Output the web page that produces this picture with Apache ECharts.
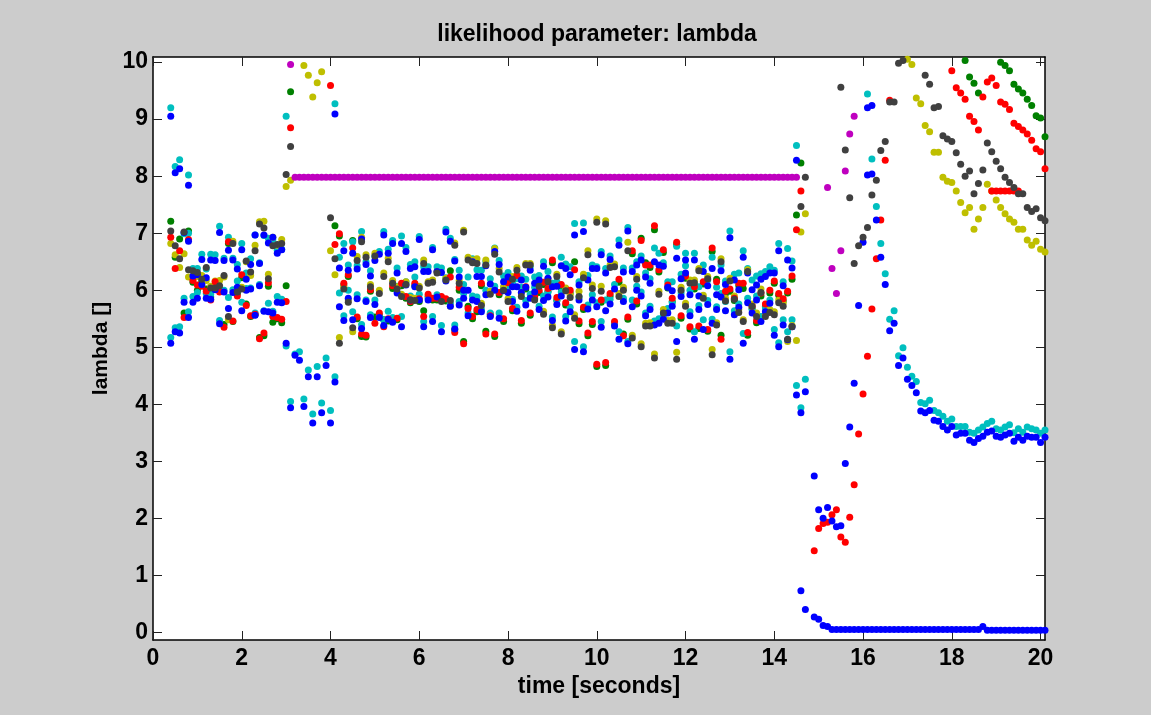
<!DOCTYPE html>
<html>
<head>
<meta charset="utf-8">
<script src="https://cdn.jsdelivr.net/npm/echarts@6/dist/echarts.min.js"></script>
<style>
  html, body { margin: 0; padding: 0; background: #cccccc; }
  #chart { width: 1151px; height: 715px; }
</style>
</head>
<body>
<div id="chart"></div>
<script>
// Each row: [time, value, value, ...] = every value of that colour at one time step.

const blueEarly = [[0.4,5.07,9.05],[0.5,5.27,8.06],[0.6,5.25,8.13],[0.7,5.79,7.01],[0.8,5.52,7.84,6.86],[0.9,5.79,6.25],[1.0,6.27,5.86],[1.1,6.54,6.10],[1.2,6.22,5.86],[1.3,6.53,5.84],[1.4,6.52,6.01],[1.5,7.01,5.41],[1.6,6.52,5.97],[1.7,6.70,5.68],[1.8,6.53,5.96],[1.9,6.37,6.05],[2.0,6.71,5.64],[2.1,6.19,6.00],[2.2,6.45,6.02],[2.3,6.97,5.56],[2.4,6.47,6.08],[2.5,6.97,5.63],[2.6,6.83,5.62],[2.7,6.93,5.60],[2.8,6.65,5.79],[2.9,6.71,5.78],[3.0,5.07],[3.1,3.94],[3.2,4.86],[3.3,4.77],[3.4,3.96],[3.5,4.48],[3.6,3.67],[3.7,4.48],[3.8,3.85],[3.9,4.68],[4.0,3.67],[4.1,4.39,9.09]];
const blueMid = [[4.2,6.39,5.71],[4.3,6.69,5.47],[4.4,6.35,5.86],[4.5,6.65,5.48],[4.6,6.37,5.85],[4.7,6.90,5.33],[4.8,6.45,5.80],[4.9,6.25,5.52],[5.0,5.75,6.52],[5.1,6.63,5.52],[5.2,6.97,5.38],[5.3,6.65,5.49],[5.4,6.82,5.44],[5.5,5.95,6.30],[5.6,6.82,5.36],[5.7,6.68,6.09],[5.8,5.83,6.38],[5.9,6.41,6.06],[6.0,5.83,6.89],[6.1,6.33,5.36],[6.2,6.33,5.83],[6.3,6.71,5.45],[6.4,6.33,5.88],[6.5,6.31,5.27],[6.6,7.02,6.16],[6.7,6.86,5.72],[6.8,6.51,5.32],[6.9,6.23,5.74],[7.0,6.00,5.86],[7.1,6.00,5.55],[7.2,5.83,6.50],[7.3,6.24,5.80],[7.4,6.24,5.62],[7.5,6.43,5.92],[7.6,5.54,6.11],[7.7,6.68,6.00],[7.8,6.45,5.51],[7.9,6.15,5.99],[8.0,6.23,5.96],[8.1,6.06,5.80],[8.2,6.06,5.63],[8.3,6.18,5.96],[8.4,6.05,5.74],[8.5,5.86,6.35],[8.6,5.97,6.12],[8.7,6.18,5.66],[8.8,6.42,5.82],[8.9,6.21,5.88],[9.0,6.06,5.47],[9.1,6.07,5.75],[9.2,6.43,5.90],[9.3,6.38,5.46],[9.4,6.27,5.62]];
const blueLate = [[9.5,6.97,4.96],[9.6,6.09,5.83],[9.7,7.03,4.92],[9.8,6.18,5.67],[9.9,5.83,6.38],[10.0,5.71,6.38],[10.1,6.62,5.35],[10.2,6.30,5.64],[10.3,6.54,5.76],[10.4,6.02,5.37],[10.5,6.79,5.14],[10.6,5.80,6.32],[10.7,5.06,7.04],[10.8,5.71,6.33],[10.9,6.44,6.00],[11.0,5.90,6.53],[11.1,5.55,6.23],[11.2,6.12,5.66],[11.3,6.50,5.39],[11.4,6.44,5.42],[11.5,6.42,5.49],[11.6,6.05,5.60],[11.7,5.99,5.72],[11.8,6.56,5.10],[11.9,5.89,6.20],[12.0,6.30,6.53],[12.1,5.92,5.55],[12.2,6.53,5.14],[12.3,5.90,5.66],[12.4,6.33,5.31],[12.5,6.08,5.75],[12.6,6.38,5.42],[12.7,5.92,5.66],[12.8,6.34,5.88],[12.9,5.64,6.10],[13.0,6.92,4.79],[13.1,6.18,5.57],[13.2,6.01,5.70],[13.3,6.58,5.07],[13.4,5.78,6.30],[13.5,6.01,5.60],[13.6,6.09,5.83],[13.7,6.19,5.45],[13.8,6.24,5.62],[13.9,6.30,5.77],[14.0,5.21,6.30],[14.1,6.69,5.01],[14.2,5.39,6.08],[14.3,5.13,6.53],[14.4,5.36,6.39],[14.5,8.28,4.16],[14.6,3.85,0.73],[14.7,4.22,0.40]];
const blueTail = [[14.9,2.74,0.27],[15.0,2.15,0.23],[15.1,2.00,0.12],[15.2,2.19,0.10],[15.3,1.95,0.05],[15.4,1.85,0.05],[15.5,1.87,0.05],[15.6,2.96,0.05],[15.7,3.60,0.05],[15.8,4.37,0.05],[15.9,5.73,0.05],[16.0,6.84,0.05],[16.1,8.02,9.20,0.05],[16.2,8.04,9.24,0.05],[16.3,7.23,0.05],[16.4,6.58,0.05],[16.5,6.10,0.05],[16.6,5.29,0.05],[16.7,5.42,0.05],[16.8,4.68,0.05],[16.9,4.81,0.05],[17.0,4.44,0.05],[17.1,4.33,0.05],[17.2,4.20,0.05],[17.3,3.88,0.05],[17.4,3.85,0.05],[17.5,3.89,0.05],[17.6,3.72,0.05],[17.7,3.70,0.05],[17.8,3.61,0.05],[17.9,3.55,0.05],[18.0,3.61,0.05],[18.1,3.46,0.05],[18.2,3.49,0.05],[18.3,3.49,0.05],[18.4,3.37,0.05],[18.5,3.33,0.05],[18.6,3.40,0.05],[18.7,3.44,0.10],[18.8,3.51,0.035],[18.9,3.53,0.035],[19.0,3.44,0.035],[19.1,3.42,0.035],[19.2,3.46,0.035],[19.3,3.49,0.035],[19.4,3.35,0.035],[19.5,3.42,0.035],[19.6,3.37,0.035],[19.7,3.44,0.035],[19.8,3.42,0.035],[19.9,3.42,0.035],[20.0,3.33,0.035],[20.1,3.42,0.035]];

const cyanEarly = [[0.4,5.17,9.20],[0.5,5.34,8.17],[0.6,5.36,8.29],[0.7,5.86,6.99],[0.8,5.62,8.02,7.00],[0.9,5.89,6.38],[1.0,6.38,5.96],[1.1,6.63,6.20],[1.2,6.37,5.94],[1.3,6.63,5.93],[1.4,6.62,6.05],[1.5,7.12,5.47],[1.6,6.56,6.00],[1.7,6.93,5.87],[1.8,6.56,6.01],[1.9,6.45,6.16],[2.0,6.82,5.79],[2.1,6.30,6.03],[2.2,6.55,6.04],[2.3,6.97,5.60],[2.4,6.48,6.10],[2.5,6.96,5.64],[2.6,6.91,5.77],[2.7,6.89,5.63],[2.8,6.70,5.89],[2.9,6.72,5.84],[3.0,5.02,9.05],[3.1,4.05],[3.2,4.88],[3.3,4.92],[3.4,4.09],[3.5,4.60],[3.6,3.83],[3.7,4.66],[3.8,4.02],[3.9,4.81],[4.0,3.89],[4.1,4.48,9.27]];
const cyanMid = [[4.2,6.58,5.95],[4.3,6.82,5.55],[4.4,6.44,6.00],[4.5,6.85,5.62],[4.6,6.43,5.92],[4.7,7.03,5.40],[4.8,6.50,5.83],[4.9,6.34,5.57],[5.0,5.83,6.59],[5.1,6.68,5.55],[5.2,7.03,5.48],[5.3,6.72,5.63],[5.4,6.87,5.52],[5.5,6.07,6.39],[5.6,6.95,5.54],[5.7,6.75,6.15],[5.8,5.90,6.45],[5.9,6.50,6.23],[6.0,5.93,6.94],[6.1,6.41,5.45],[6.2,6.41,5.86],[6.3,6.75,5.54],[6.4,6.41,5.92],[6.5,6.39,5.38],[6.6,7.07,6.22],[6.7,6.91,5.77],[6.8,6.54,5.39],[6.9,6.35,5.80],[7.0,6.10,5.94],[7.1,6.23,5.60],[7.2,5.90,6.55],[7.3,6.36,5.88],[7.4,6.35,5.66],[7.5,6.50,6.00],[7.6,5.60,6.20],[7.7,6.74,6.07],[7.8,6.52,5.60],[7.9,6.25,6.04],[8.0,6.31,6.06],[8.1,6.12,5.84],[8.2,6.20,5.70],[8.3,6.25,6.05],[8.4,6.19,5.82],[8.5,5.93,6.41],[8.6,6.05,6.23],[8.7,6.26,5.72],[8.8,6.50,5.90],[8.9,6.33,5.96],[9.0,6.12,5.53],[9.1,6.15,5.83],[9.2,6.58,5.97],[9.3,6.46,5.54],[9.4,6.41,5.70]];
const cyanLate = [[9.5,7.17,5.10],[9.6,6.15,5.88],[9.7,7.18,5.01],[9.8,6.26,5.74],[9.9,5.92,6.44],[10.0,5.78,6.41],[10.1,6.68,5.45],[10.2,6.38,5.83],[10.3,6.60,5.84],[10.4,6.10,5.43],[10.5,6.88,5.27],[10.6,5.86,6.39],[10.7,5.10,7.10],[10.8,5.83,6.39],[10.9,6.50,6.07],[11.0,5.97,6.60],[11.1,5.60,6.30],[11.2,6.20,5.72],[11.3,6.74,5.46],[11.4,6.65,5.50],[11.5,6.48,5.55],[11.6,6.15,5.68],[11.7,6.15,5.78],[11.8,6.77,5.37],[11.9,5.95,6.28],[12.0,6.43,6.65],[12.1,6.00,5.62],[12.2,6.65,5.27],[12.3,6.06,5.73],[12.4,6.44,5.48],[12.5,6.18,5.82],[12.6,6.58,5.49],[12.7,6.05,5.71],[12.8,6.44,5.94],[12.9,5.80,6.16],[13.0,7.04,4.92],[13.1,6.28,5.64],[13.2,6.30,5.76],[13.3,6.69,5.24],[13.4,5.86,6.38],[13.5,6.18,5.66],[13.6,6.25,5.90],[13.7,6.29,5.54],[13.8,6.33,5.69],[13.9,6.41,5.83],[14.0,5.31,6.35],[14.1,6.82,5.08],[14.2,5.48,6.15],[14.3,5.27,6.73],[14.4,5.48,6.51],[14.5,8.54,4.33],[14.6,3.94],[14.7,4.44]];
const cyanTail = [[16.1,9.44],[16.2,8.30],[16.3,7.47],[16.4,6.82],[16.5,6.29],[16.6,5.49],[16.7,5.64],[16.8,4.85],[16.9,4.99],[17.0,4.65],[17.1,4.49],[17.2,4.40],[17.3,4.03],[17.4,4.01],[17.5,4.07],[17.6,3.89],[17.7,3.85],[17.8,3.79],[17.9,3.70],[18.0,3.74],[18.1,3.61],[18.2,3.61],[18.3,3.61],[18.4,3.51],[18.5,3.49],[18.6,3.55],[18.7,3.60],[18.8,3.66],[18.9,3.70],[19.0,3.57],[19.1,3.55],[19.2,3.60],[19.3,3.64],[19.4,3.50],[19.5,3.57],[19.6,3.51],[19.7,3.60],[19.8,3.57],[19.9,3.55],[20.0,3.49],[20.1,3.55]];

const redEarly = [[0.4,6.93],[0.5,6.38],[0.6,6.69],[0.7,5.52],[0.8,6.89],[0.9,6.17],[1.0,6.09],[1.1,6.07],[1.2,5.98],[1.3,5.83],[1.4,6.15],[1.5,5.97],[1.6,5.35],[1.7,6.85],[1.8,5.46],[1.9,5.90],[2.0,6.27],[2.1,5.73],[2.2,5.55],[2.3,5.58],[2.4,5.15],[2.5,5.25],[2.6,6.13],[2.7,5.54],[2.8,5.52],[2.9,5.49],[3.0,5.80],[3.1,8.85],[4.0,9.59],[4.1,6.80]];
const redMid = [[4.2,6.99],[4.3,6.12],[4.4,6.27],[4.5,6.74],[4.6,5.53],[4.7,5.23],[4.8,5.21],[4.9,6.01],[5.0,5.42],[5.1,5.60],[5.2,5.36],[5.3,5.50],[5.4,6.08],[5.5,5.51],[5.6,6.12],[5.7,5.89],[5.8,5.80],[5.9,6.12],[6.0,5.85],[6.1,5.54],[6.2,5.93],[6.3,5.86],[6.4,5.86],[6.5,5.89],[6.6,5.85],[6.7,6.23],[6.8,5.26],[6.9,6.05],[7.0,5.06],[7.1,5.68],[7.2,5.54],[7.3,5.66],[7.4,6.12],[7.5,5.23],[7.6,5.55],[7.7,5.23],[7.8,5.96],[7.9,5.50],[8.0,6.13],[8.1,5.68],[8.2,6.26],[8.3,5.47],[8.4,6.06],[8.5,5.60],[8.6,5.89],[8.7,6.00],[8.8,6.14],[8.9,6.03],[9.0,6.53],[9.1,5.87],[9.2,6.10],[9.3,5.78],[9.4,6.00]];
const redLate = [[9.5,6.36],[9.6,5.46],[9.7,5.70],[9.8,5.25],[9.9,5.45],[10.0,4.70],[10.1,5.83],[10.2,4.73],[10.3,5.94],[10.4,5.45],[10.5,6.19],[10.6,5.20],[10.7,5.53],[10.8,6.69],[10.9,5.81],[11.0,6.87],[11.1,6.44],[11.2,6.44],[11.3,7.13],[11.4,6.36],[11.5,6.71],[11.6,6.09],[11.7,5.86],[11.8,6.84],[11.9,5.55],[12.0,6.25],[12.1,5.36],[12.2,6.06],[12.3,5.37],[12.4,6.15],[12.5,5.31],[12.6,6.74],[12.7,6.15],[12.8,5.14],[12.9,5.98],[13.0,6.02],[13.1,5.86],[13.2,6.12],[13.3,6.12],[13.4,5.26],[13.5,5.72],[13.6,5.47],[13.7,5.95],[13.8,5.76],[13.9,6.00],[14.0,6.16],[14.1,5.94],[14.2,5.85],[14.3,5.98],[14.4,6.25],[14.5,7.06],[14.6,7.74]];
const redTail = [[14.9,1.43],[15.0,1.82],[15.1,1.91],[15.2,1.93],[15.3,2.06],[15.4,2.15],[15.5,1.67],[15.6,1.58],[15.7,2.02],[15.8,2.59],[15.9,3.48],[16.0,4.18],[16.1,4.84],[16.2,5.67],[16.3,6.55],[16.4,7.23],[16.5,8.28],[16.6,9.33],[18.0,9.85],[18.1,9.55],[18.2,9.46],[18.3,9.35],[18.4,9.05],[18.5,8.96],[18.6,8.81],[18.7,9.39],[18.8,9.65],[18.9,9.72,7.74],[19.0,9.59,7.74],[19.1,9.30,7.74],[19.2,9.26,7.74],[19.3,9.17,7.74],[19.4,8.93,7.74],[19.5,8.87,7.74],[19.6,8.81],[19.7,8.74],[19.8,8.63],[19.9,8.48],[20.0,8.43],[20.1,8.13]];

const greenEarly = [[0.4,7.21],[0.5,6.58],[0.6,6.90],[0.7,5.60],[0.8,7.04],[0.9,6.14],[1.0,6.00],[1.1,6.15],[1.2,6.02],[1.3,5.88],[1.4,6.10],[1.5,6.02],[1.6,5.40],[1.7,6.82],[1.8,5.45],[1.9,5.94],[2.0,6.22],[2.1,5.76],[2.2,5.54],[2.3,5.57],[2.4,5.17],[2.5,5.20],[2.6,6.07],[2.7,5.44],[2.8,5.50],[2.9,5.43],[3.0,6.08],[3.1,9.48],[4.1,7.13]];
const greenMid = [[4.2,6.95],[4.3,6.09],[4.4,6.24],[4.5,6.87],[4.6,5.50],[4.7,5.19],[4.8,5.18],[4.9,5.98],[5.0,5.53],[5.1,5.56],[5.2,5.48],[5.3,5.46],[5.4,6.03],[5.5,5.48],[5.6,6.08],[5.7,5.86],[5.8,5.78],[5.9,6.08],[6.0,5.80],[6.1,5.64],[6.2,5.89],[6.3,5.83],[6.4,5.83],[6.5,5.85],[6.6,5.81],[6.7,6.34],[6.8,5.31],[6.9,6.00],[7.0,5.10],[7.1,5.72],[7.2,5.50],[7.3,5.62],[7.4,6.08],[7.5,5.28],[7.6,5.58],[7.7,5.19],[7.8,5.92],[7.9,5.45],[8.0,6.10],[8.1,5.64],[8.2,6.22],[8.3,5.42],[8.4,6.02],[8.5,5.56],[8.6,5.85],[8.7,5.96],[8.8,6.10],[8.9,5.98],[9.0,6.48],[9.1,5.82],[9.2,6.04],[9.3,5.74],[9.4,5.95]];
const greenLate = [[9.5,6.50],[9.6,5.41],[9.7,5.66],[9.8,5.20],[9.9,5.40],[10.0,4.66],[10.1,5.79],[10.2,4.68],[10.3,5.90],[10.4,5.41],[10.5,6.14],[10.6,5.23],[10.7,5.49],[10.8,6.64],[10.9,5.76],[11.0,6.91],[11.1,6.48],[11.2,6.40],[11.3,7.06],[11.4,6.32],[11.5,6.66],[11.6,6.04],[11.7,5.80],[11.8,6.80],[11.9,5.51],[12.0,6.21],[12.1,5.32],[12.2,6.02],[12.3,5.33],[12.4,6.11],[12.5,5.28],[12.6,6.68],[12.7,6.19],[12.8,5.21],[12.9,5.94],[13.0,5.98],[13.1,5.82],[13.2,6.08],[13.3,6.03],[13.4,5.21],[13.5,5.68],[13.6,5.43],[13.7,5.90],[13.8,5.71],[13.9,5.95],[14.0,6.12],[14.1,5.91],[14.2,5.81],[14.3,5.95],[14.4,6.19],[14.5,7.32],[14.6,8.23]];
const greenTail = [[18.3,10.03],[18.4,9.74],[18.5,9.63],[18.6,9.46],[19.1,10.00],[19.2,9.94],[19.3,9.85],[19.4,9.61],[19.5,9.53],[19.6,9.46],[19.7,9.35],[19.8,9.24],[19.9,9.06],[20.0,9.02],[20.1,8.69]];

const yellowEarly = [[0.4,6.82],[0.5,6.62],[0.6,6.40],[0.7,6.64],[0.8,6.23],[0.9,6.22],[1.0,6.24],[1.1,6.26],[1.2,6.17],[1.3,6.07],[1.4,6.16],[1.5,6.17],[1.6,6.23],[1.7,5.48],[1.8,6.86],[1.9,6.02],[2.0,6.05],[2.1,6.50],[2.2,6.26],[2.3,6.79],[2.4,7.20],[2.5,7.21],[2.6,6.28],[2.7,6.93],[2.8,6.79],[2.9,6.89],[3.0,7.82],[3.1,7.93],[3.4,9.94],[3.5,9.77],[3.6,9.39],[3.7,9.64],[3.8,9.83],[4.0,6.69],[4.1,6.27]];
const yellowMid = [[4.2,5.17],[4.3,6.05],[4.4,5.83],[4.5,5.27],[4.6,6.59],[4.7,6.93],[4.8,6.62],[4.9,6.10],[5.0,6.65],[5.1,6.00],[5.2,6.30],[5.3,6.56],[5.4,6.17],[5.5,6.06],[5.6,5.93],[5.7,6.15],[5.8,5.87],[5.9,5.86],[6.0,6.07],[6.1,6.53],[6.2,6.15],[6.3,6.18],[6.4,6.33],[6.5,5.86],[6.6,6.21],[6.7,5.72],[6.8,6.83],[6.9,6.17],[7.0,7.05],[7.1,6.58],[7.2,6.53],[7.3,6.55],[7.4,5.77],[7.5,6.53],[7.6,5.98],[7.7,6.73],[7.8,6.38],[7.9,6.06],[8.0,5.85],[8.1,6.24],[8.2,6.40],[8.3,5.95],[8.4,6.47],[8.5,6.47],[8.6,5.88],[8.7,6.12],[8.8,5.63],[8.9,6.20],[9.0,5.38],[9.1,6.28],[9.2,5.27],[9.3,6.04],[9.4,5.92]];
const yellowLate = [[9.5,5.57],[9.6,5.98],[9.7,6.28],[9.8,6.69],[9.9,6.09],[10.0,7.25],[10.1,6.07],[10.2,7.22],[10.3,6.44],[10.4,6.46],[10.5,5.94],[10.6,6.05],[10.7,6.84],[10.8,5.21],[10.9,6.24],[11.0,5.06],[11.1,5.42],[11.2,5.43],[11.3,4.88],[11.4,5.98],[11.5,5.66],[11.6,5.47],[11.7,5.48],[11.8,4.91],[11.9,6.05],[12.0,5.77],[12.1,6.18],[12.2,6.18],[12.3,6.38],[12.4,5.91],[12.5,6.24],[12.6,4.96],[12.7,5.43],[12.8,6.55],[12.9,5.86],[13.0,6.21],[13.1,5.90],[13.2,5.66],[13.3,5.48],[13.4,6.36],[13.5,5.76],[13.6,5.60],[13.7,6.02],[13.8,5.58],[13.9,5.66],[14.0,5.62],[14.1,5.83],[14.2,5.77],[14.3,5.10],[14.4,5.38],[14.5,5.12],[14.6,7.02],[14.7,7.34]];
const yellowTail = [[17.0,10.05],[17.1,9.96],[17.2,9.37],[17.3,9.27],[17.4,8.89],[17.5,8.78],[17.6,8.42],[17.7,8.42],[17.8,7.98],[17.9,7.91],[18.0,7.89],[18.1,7.74],[18.2,7.54],[18.3,7.36],[18.4,7.45],[18.5,7.07],[18.6,7.25],[18.7,7.45],[18.8,7.86],[18.9,7.74],[19.0,7.58],[19.1,7.45],[19.2,7.34],[19.3,7.25],[19.4,7.19],[19.5,7.07],[19.6,7.07],[19.7,6.88],[19.8,6.79],[19.9,6.86],[20.0,6.72],[20.1,6.67]];

const grayEarly = [[0.4,7.04],[0.5,6.78],[0.6,6.55],[0.7,7.02],[0.8,6.36],[0.9,6.34],[1.0,6.31],[1.1,6.19],[1.2,6.40],[1.3,6.04],[1.4,6.04],[1.5,6.08],[1.6,6.26],[1.7,5.54],[1.8,6.82],[1.9,5.97],[2.0,6.02],[2.1,6.51],[2.2,6.32],[2.3,6.69],[2.4,7.16],[2.5,7.09],[2.6,6.20],[2.7,6.78],[2.8,6.80],[2.9,6.82],[3.0,8.03],[3.1,8.52],[4.0,7.27],[4.1,6.55]];
const grayMid = [[4.2,5.07],[4.3,6.02],[4.4,5.79],[4.5,5.34],[4.6,6.52],[4.7,6.85],[4.8,6.58],[4.9,6.06],[5.0,6.60],[5.1,5.94],[5.2,6.24],[5.3,6.50],[5.4,6.12],[5.5,6.02],[5.6,5.89],[5.7,6.10],[5.8,5.83],[5.9,5.82],[6.0,6.04],[6.1,6.47],[6.2,6.12],[6.3,6.14],[6.4,6.30],[6.5,5.80],[6.6,6.18],[6.7,5.82],[6.8,6.79],[6.9,6.12],[7.0,7.02],[7.1,6.53],[7.2,6.48],[7.3,6.47],[7.4,5.73],[7.5,6.44],[7.6,5.93],[7.7,6.63],[7.8,6.32],[7.9,6.00],[8.0,5.80],[8.1,6.19],[8.2,6.35],[8.3,5.89],[8.4,6.44],[8.5,6.44],[8.6,5.83],[8.7,6.07],[8.8,5.58],[8.9,6.15],[9.0,5.34],[9.1,6.24],[9.2,5.23],[9.3,5.99],[9.4,5.87]];
const grayLate = [[9.5,5.51],[9.6,5.89],[9.7,6.22],[9.8,6.62],[9.9,6.03],[10.0,7.19],[10.1,5.98],[10.2,7.16],[10.3,6.40],[10.4,6.41],[10.5,5.89],[10.6,6.00],[10.7,6.69],[10.8,5.16],[10.9,6.19],[11.0,5.01],[11.1,5.37],[11.2,5.37],[11.3,4.81],[11.4,5.93],[11.5,5.60],[11.6,5.42],[11.7,5.42],[11.8,4.79],[11.9,6.00],[12.0,5.72],[12.1,6.12],[12.2,6.13],[12.3,6.34],[12.4,5.86],[12.5,6.20],[12.6,4.87],[12.7,5.39],[12.8,6.50],[12.9,5.81],[13.0,6.16],[13.1,5.84],[13.2,5.61],[13.3,5.45],[13.4,6.33],[13.5,5.72],[13.6,5.54],[13.7,5.96],[13.8,5.54],[13.9,5.61],[14.0,5.57],[14.1,5.78],[14.2,5.72],[14.3,5.14],[14.4,5.36],[14.6,7.47],[14.7,7.98]];
const grayTail = [[15.5,9.56],[15.6,8.46],[15.7,7.62],[15.8,6.47],[15.9,6.78],[16.0,6.93],[16.1,7.10],[16.2,7.67],[16.3,7.93],[16.4,8.45],[16.5,8.61],[16.6,9.30],[16.7,9.30],[16.8,9.98],[16.9,10.03],[17.4,9.77],[17.5,9.61],[17.6,9.20],[17.7,9.22],[17.8,8.71],[17.9,8.65],[18.0,8.61],[18.1,8.41],[18.2,8.21],[18.3,8.00],[18.4,8.09],[18.5,7.69],[18.6,7.87],[18.7,8.11],[18.8,8.58],[18.9,8.43],[19.0,8.26],[19.1,8.13],[19.2,7.98],[19.3,7.89],[19.4,7.80],[19.5,7.69],[19.6,7.69],[19.7,7.45],[19.8,7.38],[19.9,7.43],[20.0,7.27],[20.1,7.22]];

const magentaHold = [[3.1,9.96],[3.2,7.98],[3.3,7.98],[3.4,7.98],[3.5,7.98],[3.6,7.98],[3.7,7.98],[3.8,7.98],[3.9,7.98],[4.0,7.98],[4.1,7.98],[4.2,7.98],[4.3,7.98],[4.4,7.98],[4.5,7.98],[4.6,7.98],[4.7,7.98],[4.8,7.98],[4.9,7.98],[5.0,7.98],[5.1,7.98],[5.2,7.98],[5.3,7.98],[5.4,7.98],[5.5,7.98],[5.6,7.98],[5.7,7.98],[5.8,7.98],[5.9,7.98],[6.0,7.98],[6.1,7.98],[6.2,7.98],[6.3,7.98],[6.4,7.98],[6.5,7.98],[6.6,7.98],[6.7,7.98],[6.8,7.98],[6.9,7.98],[7.0,7.98],[7.1,7.98],[7.2,7.98],[7.3,7.98],[7.4,7.98],[7.5,7.98],[7.6,7.98],[7.7,7.98],[7.8,7.98],[7.9,7.98],[8.0,7.98],[8.1,7.98],[8.2,7.98],[8.3,7.98],[8.4,7.98],[8.5,7.98],[8.6,7.98],[8.7,7.98],[8.8,7.98],[8.9,7.98],[9.0,7.98],[9.1,7.98],[9.2,7.98],[9.3,7.98],[9.4,7.98],[9.5,7.98],[9.6,7.98],[9.7,7.98],[9.8,7.98],[9.9,7.98],[10.0,7.98],[10.1,7.98],[10.2,7.98],[10.3,7.98],[10.4,7.98],[10.5,7.98],[10.6,7.98],[10.7,7.98],[10.8,7.98],[10.9,7.98],[11.0,7.98],[11.1,7.98],[11.2,7.98],[11.3,7.98],[11.4,7.98],[11.5,7.98],[11.6,7.98],[11.7,7.98],[11.8,7.98],[11.9,7.98],[12.0,7.98],[12.1,7.98],[12.2,7.98],[12.3,7.98],[12.4,7.98],[12.5,7.98],[12.6,7.98],[12.7,7.98],[12.8,7.98],[12.9,7.98],[13.0,7.98],[13.1,7.98],[13.2,7.98],[13.3,7.98],[13.4,7.98],[13.5,7.98],[13.6,7.98],[13.7,7.98],[13.8,7.98],[13.9,7.98],[14.0,7.98],[14.1,7.98],[14.2,7.98],[14.3,7.98],[14.4,7.98],[14.5,7.98]];
const magentaTail = [[15.2,7.80],[15.3,6.38],[15.4,5.94],[15.5,6.69],[15.6,8.09],[15.7,8.74],[15.8,9.05]];

const xTicks = [0, 2, 4, 6, 8, 10, 12, 14, 16, 18, 20];
const yTicks = [0, 1, 2, 3, 4, 5, 6, 7, 8, 9, 10];

// flatten [time, v1, v2, ...] rows into [time, value] points
function points(...groups) {
  const out = [];
  groups.forEach(rows => rows.forEach(row => {
    for (let i = 1; i < row.length; i++) out.push([row[0], row[i]]);
  }));
  return out;
}

const FONT = '"Liberation Sans", Arial, Helvetica, sans-serif';
const chart = echarts.init(document.getElementById('chart'), null, { renderer: 'canvas' });

function dots(name, color, data) {
  return {
    name, type: 'scatter', data,
    symbol: 'circle', symbolSize: 7,
    itemStyle: { color, opacity: 1 },
    emphasis: { disabled: true },
    xAxisIndex: 0, yAxisIndex: 0
  };
}

const lineStyle = { color: '#000000', width: 1.5 };
const tickStyle = { color: '#222222', width: 1 };
const labelText = { fontFamily: FONT, fontWeight: 'bold', fontSize: 23, color: '#000' };

chart.setOption({
  animation: false,
  backgroundColor: '#cccccc',
  title: {
    text: 'likelihood parameter: lambda',
    left: 592, top: 18, textAlign: 'center',
    textStyle: labelText
  },
  grid: {
    left: 153, top: 57, right: 106, bottom: 75,
    show: true, backgroundColor: '#ffffff', borderWidth: 0
  },
  xAxis: [
    {
      type: 'value', position: 'bottom', min: 0, max: 20.1,
      name: 'time [seconds]', nameLocation: 'middle', nameGap: 35,
      nameTextStyle: labelText,
      axisLine: { show: true, onZero: false, lineStyle },
      axisTick: { show: true, inside: true, length: 9, customValues: xTicks, lineStyle: tickStyle },
      axisLabel: Object.assign({ customValues: xTicks, margin: 7 }, labelText),
      splitLine: { show: false }
    },
    {
      type: 'value', position: 'top', min: 0, max: 20.1,
      axisLine: { show: true, onZero: false, lineStyle },
      axisTick: { show: true, inside: true, length: 9, customValues: xTicks, lineStyle: tickStyle },
      axisLabel: { show: false },
      splitLine: { show: false }
    }
  ],
  yAxis: [
    {
      type: 'value', position: 'left', min: -0.135, max: 10.09,
      name: 'lambda []', nameLocation: 'middle', nameGap: 32,
      nameTextStyle: Object.assign({}, labelText, { fontSize: 21 }),
      axisLine: { show: true, onZero: false, lineStyle },
      axisTick: { show: true, inside: true, length: 9, customValues: yTicks, lineStyle: tickStyle },
      axisLabel: Object.assign({ customValues: yTicks, margin: 5 }, labelText),
      splitLine: { show: false }
    },
    {
      type: 'value', position: 'right', min: -0.135, max: 10.09,
      axisLine: { show: true, onZero: false, lineStyle },
      axisTick: { show: true, inside: true, length: 9, customValues: yTicks, lineStyle: tickStyle },
      axisLabel: { show: false },
      splitLine: { show: false }
    }
  ],
  series: [
    dots('green', '#008000', points(greenEarly, greenMid, greenLate, greenTail)),
    dots('cyan', '#00bfbf', points(cyanEarly, cyanMid, cyanLate, cyanTail)),
    dots('yellow', '#bfbf00', points(yellowEarly, yellowMid, yellowLate, yellowTail)),
    dots('magenta', '#bf00bf', points(magentaHold, magentaTail)),
    dots('red', '#ff0000', points(redEarly, redMid, redLate, redTail)),
    dots('blue', '#0000ff', points(blueEarly, blueMid, blueLate, blueTail)),
    dots('gray', '#404040', points(grayEarly, grayMid, grayLate, grayTail))
  ]
});
</script>
</body>
</html>
